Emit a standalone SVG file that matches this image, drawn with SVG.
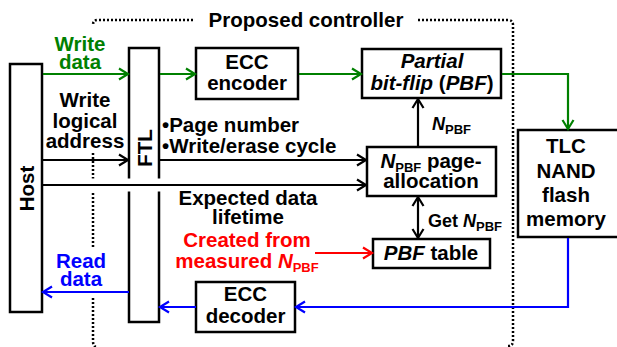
<svg xmlns="http://www.w3.org/2000/svg" width="617" height="347" viewBox="0 0 617 347">
<style>
.t{font-family:"Liberation Sans",Arial,sans-serif;font-weight:bold;font-size:20.5px;fill:#000}
.c{text-anchor:middle}
.i{font-style:italic}
.s{font-size:13px}
.box{fill:#fff;stroke:#000;stroke-width:2.5}
.ln{fill:none;stroke-width:2.2}
.k{stroke:#000}.g{stroke:#008000}.b{stroke:#0000ff}.r{stroke:#ff0000}
.dot{fill:none;stroke:#000;stroke-width:2.5;stroke-dasharray:2,2}
</style>
<defs>
<marker id="ak" markerUnits="userSpaceOnUse" markerWidth="14" markerHeight="14" viewBox="-11 -7 14 14" refX="0" refY="0" orient="auto-start-reverse"><path d="M-9,-5.5 L0,0 L-9,5.5" fill="none" stroke="#000" stroke-width="2.2"/></marker>
<marker id="ag" markerUnits="userSpaceOnUse" markerWidth="14" markerHeight="14" viewBox="-11 -7 14 14" refX="0" refY="0" orient="auto"><path d="M-9,-5.5 L0,0 L-9,5.5" fill="none" stroke="#008000" stroke-width="2.2"/></marker>
<marker id="ab" markerUnits="userSpaceOnUse" markerWidth="14" markerHeight="14" viewBox="-11 -7 14 14" refX="0" refY="0" orient="auto"><path d="M-9,-5.5 L0,0 L-9,5.5" fill="none" stroke="#0000ff" stroke-width="2.2"/></marker>
<marker id="ar" markerUnits="userSpaceOnUse" markerWidth="14" markerHeight="14" viewBox="-11 -7 14 14" refX="0" refY="0" orient="auto"><path d="M-9,-5.5 L0,0 L-9,5.5" fill="none" stroke="#ff0000" stroke-width="2.2"/></marker>
</defs>
<rect width="617" height="347" fill="#fff"/>

<g id="controller-boundary">
<path class="dot" d="M193,20 L98,20 Q93,20 93,25"/>
<path class="dot" d="M418,20 L508,20 Q513,20 513,25 L513,341 Q513,346 508,346"/>
<path class="dot" d="M93,153 L93,179"/>
<path class="dot" d="M93,193 L93,248"/>
<path class="dot" d="M93,298 L93,341 Q93,346 96,347"/>
<text class="t c" x="306" y="27">Proposed controller</text>
</g>

<g id="host"><rect class="box" x="10" y="64" width="32" height="248"/>
<text class="t c" transform="translate(34,188.5) rotate(-90)">Host</text></g>

<g id="ftl"><rect class="box" x="129" y="48" width="30" height="274"/>
<text class="t c" transform="translate(152,148) rotate(-90)">FTL</text></g>

<g id="ecc-encoder"><rect class="box" x="196" y="48" width="102" height="51"/>
<text class="t c" x="247" y="69">ECC</text><text class="t c" x="247" y="90">encoder</text></g>

<g id="pbf"><rect class="box" x="362" y="49" width="139" height="49"/>
<text class="t c i" x="432" y="68">Partial</text>
<text class="t c" x="432" y="90"><tspan class="i">bit-flip</tspan> (<tspan class="i">PBF</tspan>)</text></g>

<g id="page-allocation"><rect class="box" x="367" y="147" width="129" height="49"/>
<text class="t c" x="431" y="168"><tspan class="i">N</tspan><tspan class="s" dy="4">PBF</tspan><tspan dy="-4"> page-</tspan></text>
<text class="t c" x="431" y="188">allocation</text></g>

<g id="pbf-table"><rect class="box" x="373" y="239" width="117" height="29"/>
<text class="t c" x="431" y="260"><tspan class="i">PBF</tspan> table</text></g>

<g id="ecc-decoder"><rect class="box" x="196" y="282" width="99" height="50"/>
<text class="t c" x="245.5" y="301">ECC</text><text class="t c" x="245.5" y="323">decoder</text></g>

<g id="tlc-nand"><rect class="box" x="518" y="130" width="102" height="107"/>
<text class="t c" x="566" y="153">TLC</text><text class="t c" x="566" y="178">NAND</text>
<text class="t c" x="566" y="202">flash</text><text class="t c" x="566" y="226">memory</text></g>

<g id="connectors">
<line class="ln g" x1="43" y1="74" x2="128" y2="74" marker-end="url(#ag)"/>
<line class="ln g" x1="160" y1="74" x2="195" y2="74" marker-end="url(#ag)"/>
<line class="ln g" x1="299" y1="74" x2="361" y2="74" marker-end="url(#ag)"/>
<polyline class="ln g" points="502,74 568,74 568,129" marker-end="url(#ag)"/>
<line class="ln k" x1="43" y1="160" x2="128" y2="160" marker-end="url(#ak)"/>
<line class="ln k" x1="160" y1="160" x2="366" y2="160" marker-end="url(#ak)"/>
<line x1="44" y1="185" x2="360" y2="185" stroke="#fff" stroke-width="13"/>
<line class="ln k" x1="43" y1="185" x2="366" y2="185" marker-end="url(#ak)"/>
<line class="ln k" x1="418" y1="146" x2="418" y2="99" marker-end="url(#ak)"/>
<line class="ln k" x1="418" y1="197" x2="418" y2="238" marker-start="url(#ak)" marker-end="url(#ak)"/>
<line class="ln r" x1="315" y1="253" x2="372" y2="253" marker-end="url(#ar)"/>
<polyline class="ln b" points="568,238 568,307 296,307" marker-end="url(#ab)"/>
<line class="ln b" x1="196" y1="307" x2="160" y2="307" marker-end="url(#ab)"/>
<line class="ln b" x1="129" y1="292" x2="43" y2="292" marker-end="url(#ab)"/>
</g>

<g id="labels">
<text class="t c" x="80" y="51" fill="#008000" style="fill:#008000">Write</text>
<text class="t c" x="80" y="69" style="fill:#008000">data</text>
<text class="t c" x="85" y="107">Write</text>
<text class="t c" x="85" y="128">logical</text>
<text class="t c" x="85" y="148">address</text>
<text class="t" x="162" y="132">•Page number</text>
<text class="t" x="162" y="153">•Write/erase cycle</text>
<text class="t c" x="248" y="205">Expected data</text>
<text class="t c" x="248" y="224">lifetime</text>
<text class="t c" x="247" y="247" style="fill:#ff0000">Created from</text>
<text class="t c" x="247" y="268" style="fill:#ff0000">measured <tspan class="i">N</tspan><tspan class="s" dy="4">PBF</tspan></text>
<text class="t c" x="81" y="268" style="fill:#0000ff">Read</text>
<text class="t c" x="81" y="286" style="fill:#0000ff">data</text>
<text class="t" x="432" y="130"><tspan class="i" style="font-size:18px">N</tspan><tspan class="s" dy="4">PBF</tspan></text>
<text class="t" x="428" y="227" style="font-size:18px">Get <tspan class="i">N</tspan><tspan class="s" dy="4">PBF</tspan></text>
</g>
</svg>
